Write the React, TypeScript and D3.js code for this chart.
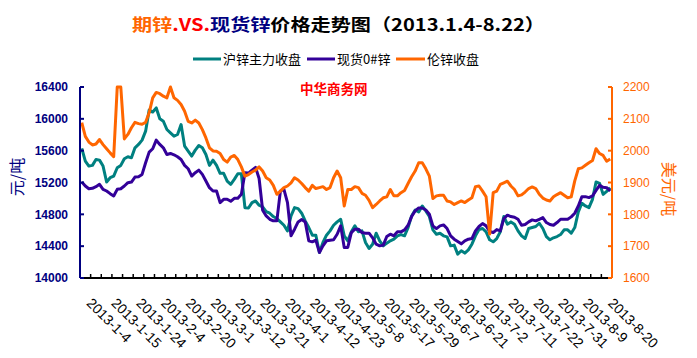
import React from "react";
import * as d3 from "d3";

const tickLabels = ["2013-1-4","2013-1-15","2013-1-24","2013-2-4","2013-2-20","2013-3-1","2013-3-12","2013-3-21","2013-4-1","2013-4-12","2013-4-23","2013-5-8","2013-5-17","2013-5-29","2013-6-7","2013-6-21","2013-7-2","2013-7-11","2013-7-22","2013-7-31","2013-8-9","2013-8-20"];
const labelEvery = 7;
const tickEvery = 3;

const shfe = [15630,15469,15406,15415,15490,15481,15406,15206,15260,15281,15385,15415,15498,15523,15510,15636,15678,15732,15845,16110,16085,16137,16000,15970,15866,15824,15782,15803,15928,15657,15594,15532,15607,15665,15636,15552,15415,15481,15415,15315,15315,15218,15177,15239,15310,15310,14884,14880,14947,14968,14914,14893,14834,14814,14772,14747,14705,14663,14592,14780,14884,14872,14814,14718,14634,14538,14538,14321,14446,14538,14592,14663,14705,14738,14530,14467,14580,14655,14580,14592,14446,14371,14425,14563,14467,14404,14438,14467,14488,14530,14546,14530,14634,14780,14855,14830,14905,14843,14772,14605,14550,14563,14530,14517,14404,14413,14300,14342,14313,14354,14425,14530,14610,14622,14580,14480,14455,14496,14580,14772,14676,14705,14676,14592,14530,14496,14622,14634,14647,14688,14622,14521,14480,14505,14521,14546,14605,14605,14563,14634,14830,14939,14905,14884,14989,15206,15189,15051,15089,15135];
const spot = [15206,15156,15122,15127,15148,15177,15114,15093,15060,15031,15114,15122,15156,15198,15206,15269,15273,15302,15448,15582,15624,15732,15678,15636,15552,15565,15548,15523,15490,15415,15373,15281,15323,15356,15302,15219,15135,15093,15093,14947,14989,14989,14964,15001,15001,15051,15323,15319,15356,15390,15250,14851,14780,14738,14718,14718,15093,15114,14947,14530,14613,14705,14734,14705,14467,14454,14475,14321,14404,14467,14475,14480,14550,14655,14384,14384,14571,14613,14613,14571,14563,14563,14505,14425,14404,14413,14521,14550,14530,14580,14580,14605,14663,14772,14843,14880,14880,14855,14801,14655,14621,14655,14667,14621,14530,14488,14459,14429,14467,14488,14496,14592,14647,14684,14655,14584,14571,14609,14592,14747,14789,14772,14764,14738,14663,14672,14705,14730,14718,14738,14759,14697,14672,14663,14697,14738,14738,14738,14768,14814,14905,15022,15022,15010,15031,15101,15164,15139,15135,15093];
const lme = [2088,2045,2027,2018,2021,2035,2019,2006,1993,1981,2200,2200,2037,2051,2072,2089,2085,2083,2089,2119,2166,2183,2179,2171,2166,2200,2166,2158,2145,2124,2092,2087,2096,2087,2066,2040,2009,1999,1998,1991,1972,1964,1980,1985,1972,1949,1920,1925,1933,1939,1949,1936,1915,1908,1891,1863,1873,1884,1889,1899,1915,1908,1897,1884,1873,1891,1881,1884,1887,1878,1884,1915,1936,1915,1826,1878,1878,1887,1884,1866,1860,1844,1821,1831,1842,1852,1855,1878,1858,1858,1868,1875,1897,1918,1936,1962,1962,1943,1920,1850,1858,1860,1860,1842,1839,1831,1837,1842,1837,1845,1852,1887,1889,1873,1855,1738,1868,1873,1894,1899,1904,1889,1878,1858,1861,1870,1881,1886,1881,1863,1851,1845,1842,1855,1862,1868,1860,1852,1855,1905,1943,1946,1954,1962,1969,2006,1991,1985,1967,1974];

const leftTicks = [14000,14400,14800,15200,15600,16000,16400];
const rightTicks = [1600,1700,1800,1900,2000,2100,2200];

const seriesNames = ["沪锌主力收盘","现货0#锌","伦锌收盘"];
const colors = { teal: "#008080", purple: "#330099", orange: "#FF6600", navy: "#000080" };

export default function App() {
  const L = 80, R = 612, T = 87, B = 278;
  const idx = d3.range(shfe.length);
  const x = d3.scaleBand<number>().domain(idx).range([L, R]).padding(0);
  const xc = (i: number) => (x(i) as number) + x.bandwidth() / 2;
  const yL = d3.scaleLinear().domain([14000, 16400]).range([B, T]);
  const yR = d3.scaleLinear().domain([1600, 2200]).range([B, T]);
  const lineL = d3.line<number>().x((_, i) => xc(i)).y((d) => yL(d));
  const lineR = d3.line<number>().x((_, i) => xc(i)).y((d) => yR(d));
  const tickIdx = d3.range(0, shfe.length + 1, tickEvery);
  const font = "'Liberation Sans', Arial, sans-serif";
  const cjk = "'Noto Sans CJK SC', sans-serif";

  return (
    <svg width={697} height={358} style={{ position: "absolute", left: 0, top: 0, background: "#fff" }}>
      <text x={132} y={31} fontFamily={cjk} fontWeight="bold" fontSize={17} textLength={413} lengthAdjust="spacingAndGlyphs">
        <tspan fill={colors.orange}>期锌</tspan>
        <tspan fill="#FF0000">.VS.</tspan>
        <tspan fill={colors.navy}>现货锌</tspan>
        <tspan fill="#000">价格走势图（2013.1.4-8.22）</tspan>
      </text>

      {/* legend */}
      <line x1={193} x2={221} y1={59} y2={59} stroke={colors.teal} strokeWidth={3} />
      <text x={223} y={64} fontFamily={cjk} fontSize={13} fill="#000">{seriesNames[0]}</text>
      <line x1={307} x2={335} y1={59} y2={59} stroke={colors.purple} strokeWidth={3} />
      <text x={337} y={64} fontFamily={cjk} fontSize={13} fill="#000">{seriesNames[1]}</text>
      <line x1={396} x2={425} y1={59} y2={59} stroke={colors.orange} strokeWidth={3} />
      <text x={427} y={64} fontFamily={cjk} fontSize={13} fill="#000">{seriesNames[2]}</text>

      <text x={300} y={93.5} fontFamily={cjk} fontWeight="bold" fontSize={13.5} fill="#FF0000">中华商务网</text>

      {/* series */}
      <path d={lineL(shfe) || ""} fill="none" stroke={colors.teal} strokeWidth={3} strokeLinejoin="round" />
      <path d={lineL(spot) || ""} fill="none" stroke={colors.purple} strokeWidth={3} strokeLinejoin="round" />
      <path d={lineR(lme) || ""} fill="none" stroke={colors.orange} strokeWidth={3} strokeLinejoin="round" />

      {/* x axis */}
      <line x1={L} x2={R} y1={B} y2={B} stroke="#000" strokeWidth={2} />
      {tickIdx.map((k) => {
        const xx = k < shfe.length ? (x(k) as number) : R;
        return <line key={k} x1={xx} x2={xx} y1={B} y2={B - 4} stroke="#000" strokeWidth={1.5} />;
      })}
      {tickLabels.map((lab, j) => {
        const i = j * labelEvery;
        const ax = xc(i) + 4;
        const ay = 304;
        return (
          <text key={lab} x={ax} y={ay} transform={`rotate(45 ${ax} ${ay})`} fontFamily={font} fontSize={14} fill="#000">{lab}</text>
        );
      })}

      {/* left axis */}
      <line x1={L} x2={L} y1={T} y2={B} stroke={colors.navy} strokeWidth={2} />
      {leftTicks.map((t) => (
        <g key={t}>
          <line x1={L} x2={L + 4} y1={yL(t)} y2={yL(t)} stroke={colors.navy} strokeWidth={2} />
          <text x={68} y={yL(t)} dy="0.36em" textAnchor="end" fontFamily={font} fontWeight="bold" fontSize={12} fill={colors.navy}>{t}</text>
        </g>
      ))}
      <text transform="translate(17,177) rotate(-90)" textAnchor="middle" dy="0.36em" fontFamily={cjk} fontSize={16} fill={colors.navy}>元/吨</text>

      {/* right axis */}
      <line x1={R} x2={R} y1={T} y2={B} stroke={colors.orange} strokeWidth={2} />
      {rightTicks.map((t) => (
        <g key={t}>
          <line x1={R - 4} x2={R} y1={yR(t)} y2={yR(t)} stroke={colors.orange} strokeWidth={2} />
          <text x={623} y={yR(t)} dy="0.36em" fontFamily={font} fontSize={12} fill={colors.orange}>{t}</text>
        </g>
      ))}
      <text transform="translate(669,189) rotate(90)" textAnchor="middle" dy="0.36em" fontFamily={cjk} fontSize={16} fill={colors.orange}>美元/吨</text>
    </svg>
  );
}
